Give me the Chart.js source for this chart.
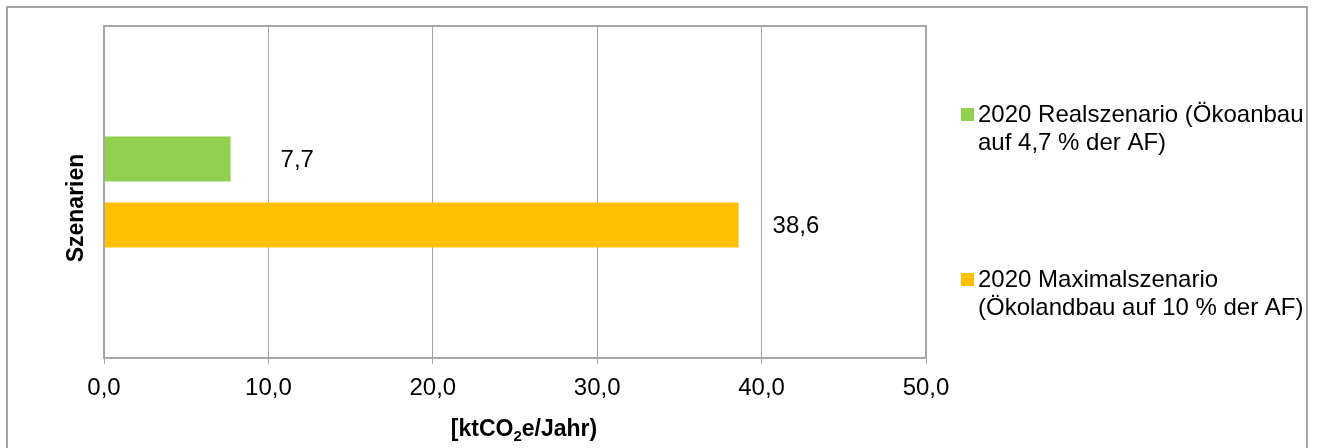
<!DOCTYPE html>
<html>
<head>
<meta charset="utf-8">
<script src="https://cdn.jsdelivr.net/npm/chart.js@4.4.1/dist/chart.umd.min.js"></script>
<style>
  body { margin: 0; background: #fff; }
  #wrap { width: 1317px; height: 448px; position: relative; }
</style>
</head>
<body>
<div id="wrap"><canvas id="chartSzenarien" width="1317" height="448"></canvas></div>
<script>
// Daten
var categories = ['Szenarien'];
var seriesNames = [
  ['2020 Realszenario (Ökoanbau', 'auf 4,7 % der AF)'],
  ['2020 Maximalszenario', '(Ökolandbau auf 10 % der AF)']
];
var realValues = [7.7];
var maxValues = [38.6];
var xTicks = [0, 10, 20, 30, 40, 50];
var yTitle = 'Szenarien';
var xTitle = ['[ktCO', '2', 'e/Jahr)'];

var FONT = "'Liberation Sans', Arial, sans-serif";
var GRID = '#a6a6a6';
var colors = ['#92d050', '#ffc000'];
var labelOffsets = [50, 34];

function fmt(v) {
  return v.toFixed(1).replace('.', ',');
}

// Rahmen, Beschriftungen und Legende selbst zeichnen
var extras = {
  id: 'extras',
  beforeDraw: function (chart) {
    var c = chart.ctx;
    c.save();
    c.fillStyle = '#fff';
    c.fillRect(0, 0, chart.width, chart.height);
    c.strokeStyle = GRID;
    c.lineWidth = 2;
    c.strokeRect(7, 7, 1300, 460);
    c.restore();
  },
  afterDatasetsDraw: function (chart) {
    var c = chart.ctx;
    var a = chart.chartArea;
    c.save();
    c.strokeStyle = GRID;
    c.lineWidth = 2;
    c.strokeRect(a.left, a.top, a.right - a.left, a.bottom - a.top);

    // Datenbeschriftungen
    c.fillStyle = '#000';
    c.font = '24px ' + FONT;
    c.textBaseline = 'middle';
    c.textAlign = 'left';
    chart.data.datasets.forEach(function (ds, i) {
      var meta = chart.getDatasetMeta(i);
      meta.data.forEach(function (bar, j) {
        c.fillText(fmt(ds.data[j]), bar.x + labelOffsets[i], bar.y + 1);
      });
    });

    // Achsentitel y
    c.save();
    c.font = 'bold 23px ' + FONT;
    c.textAlign = 'center';
    c.translate(77, 208);
    c.rotate(-Math.PI / 2);
    c.fillText(yTitle, 0, 0);
    c.restore();

    // Achsentitel x mit tiefgestellter 2
    c.font = 'bold 23px ' + FONT;
    c.textBaseline = 'alphabetic';
    var w1 = c.measureText(xTitle[0]).width;
    var w3 = c.measureText(xTitle[2]).width;
    c.font = 'bold 15px ' + FONT;
    var w2 = c.measureText(xTitle[1]).width;
    var x0 = 524 - (w1 + w2 + w3) / 2;
    var base = 436;
    c.font = 'bold 23px ' + FONT;
    c.fillText(xTitle[0], x0, base);
    c.font = 'bold 15px ' + FONT;
    c.fillText(xTitle[1], x0 + w1, base + 5);
    c.font = 'bold 23px ' + FONT;
    c.fillText(xTitle[2], x0 + w1 + w2, base);

    // Legende
    var legendY = [115, 280];
    c.textBaseline = 'middle';
    c.font = '24px ' + FONT;
    chart.data.datasets.forEach(function (ds, i) {
      c.fillStyle = ds.backgroundColor;
      c.fillRect(961, legendY[i] - 7, 13, 13);
      c.fillStyle = '#000';
      seriesNames[i].forEach(function (line, k) {
        c.fillText(line, 978, legendY[i] + k * 28);
      });
    });
    c.restore();
  }
};

new Chart(document.getElementById('chartSzenarien'), {
  type: 'bar',
  data: {
    labels: categories,
    datasets: [
      {
        label: seriesNames[0].join(' '),
        data: realValues,
        backgroundColor: colors[0],
        borderWidth: 0,
        categoryPercentage: 0.3976,
        barPercentage: 0.682
      },
      {
        label: seriesNames[1].join(' '),
        data: maxValues,
        backgroundColor: colors[1],
        borderWidth: 0,
        categoryPercentage: 0.3976,
        barPercentage: 0.682
      }
    ]
  },
  options: {
    indexAxis: 'y',
    responsive: false,
    animation: false,
    layout: { padding: { top: 26, right: 391, left: 0, bottom: 0 } },
    plugins: {
      legend: { display: false },
      tooltip: { enabled: false }
    },
    scales: {
      x: {
        min: xTicks[0],
        max: xTicks[xTicks.length - 1],
        afterBuildTicks: function (scale) {
          scale.ticks = xTicks.map(function (v) { return { value: v }; });
        },
        afterFit: function (scale) { scale.height = 90; },
        ticks: {
          color: '#000',
          font: { size: 24, family: FONT },
          padding: 10,
          maxRotation: 0,
          callback: function (v) { return fmt(v); }
        },
        grid: { color: GRID, lineWidth: 1, tickLength: 6, drawTicks: true },
        border: { display: false }
      },
      y: {
        afterFit: function (scale) { scale.width = 104; },
        ticks: { display: false },
        grid: { display: false },
        border: { display: false }
      }
    }
  },
  plugins: [extras]
});
</script>
</body>
</html>
